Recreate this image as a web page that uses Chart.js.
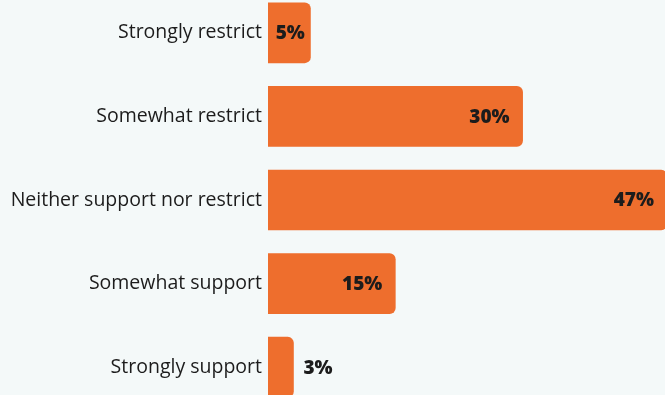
<!DOCTYPE html>
<html>
<head>
<meta charset="utf-8">
<script src="https://cdn.jsdelivr.net/npm/chart.js@4.4.1/dist/chart.umd.min.js"></script>
<style>
  html, body { margin: 0; padding: 0; background: #F4F9F9; overflow: hidden; }
  #wrap { position: relative; width: 665px; height: 395px; overflow: hidden; }
  #box { position: absolute; left: 0; top: -9px; width: 672px; height: 418px; }
</style>
</head>
<body>
<div id="wrap"><div id="box"><canvas id="chart"></canvas></div></div>
<script>
const answers = ["Strongly restrict", "Somewhat restrict", "Neither support nor restrict", "Somewhat support", "Strongly support"];
const shares = [5, 30, 47, 15, 3];

const orange = "#EE6E2D";
const ink = "#1C1C1C";

// percent text at the end of each bar
const valueLabels = {
    id: 'valueLabels',
    afterDatasetsDraw(chart) {
        const ctx = chart.ctx;
        const meta = chart.getDatasetMeta(0);
        ctx.save();
        ctx.font = "800 19px 'Open Sans'";
        ctx.fillStyle = ink;
        ctx.textBaseline = "middle";
        meta.data.forEach((bar, i) => {
            const txt = shares[i] + "%";
            const w = ctx.measureText(txt).width;
            const barW = bar.x - bar.base;
            if (barW > w + 26) {
                ctx.textAlign = "right";
                ctx.fillText(txt, bar.x - 13, bar.y + 1);
            } else if (barW > w + 4) {
                ctx.textAlign = "center";
                ctx.fillText(txt, (bar.x + bar.base) / 2 + 1, bar.y + 1);
            } else {
                ctx.textAlign = "left";
                ctx.fillText(txt, bar.x + 10, bar.y + 1);
            }
        });
        ctx.restore();
    }
};

new Chart(document.getElementById("chart"), {
    type: 'bar',
    data: {
        labels: answers,
        datasets: [{
            data: shares,
            backgroundColor: orange,
            borderRadius: 6,
            borderSkipped: 'start',
            barThickness: 60
        }]
    },
    options: {
        indexAxis: 'y',
        responsive: true,
        maintainAspectRatio: false,
        animation: false,
        layout: { padding: 0 },
        plugins: {
            legend: { display: false },
            tooltip: { enabled: false }
        },
        scales: {
            x: {
                min: 0,
                max: 47.6,
                display: false
            },
            y: {
                grid: { display: false, drawTicks: false },
                border: { display: false },
                afterFit(scale) {
                    scale.width = 268;
                    scale.paddingTop = 0;
                    scale.paddingBottom = 0;
                },
                ticks: {
                    color: ink,
                    padding: 6,
                    font: { family: "Open Sans", size: 19.5 }
                }
            }
        }
    },
    plugins: [valueLabels]
});
</script>
</body>
</html>
